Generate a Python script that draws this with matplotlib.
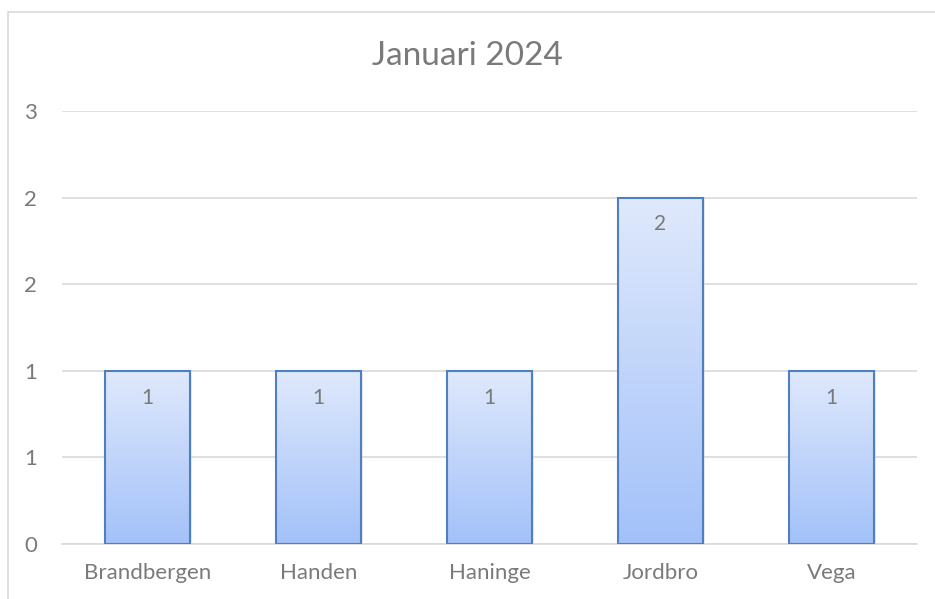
import numpy as np
import matplotlib
matplotlib.use("Agg")
import matplotlib.pyplot as plt
from matplotlib.patches import Rectangle
from matplotlib.colors import LinearSegmentedColormap

categories = ["Brandbergen", "Handen", "Haninge", "Jordbro", "Vega"]
values = [1, 1, 1, 2, 1]
yticks = [0, 0.5, 1, 1.5, 2, 2.5]
ytick_labels = ["0", "1", "1", "2", "2", "3"]
title = "Januari 2024"

plt.rcParams["font.family"] = ["Lato", "DejaVu Sans"]
grey = "#7a7a7a"

fig = plt.figure(figsize=(9.35, 5.99), dpi=100)
ax = fig.add_axes([62 / 935, 1 - 544 / 599, 855 / 935, 433 / 599])

# outer chart border (cropped on right/bottom)
fig.patches.append(Rectangle((8 / 935, -0.1), 1.2, 1 - 12 / 599 + 0.1,
                             transform=fig.transFigure, fill=False,
                             edgecolor="#d9d9d9", linewidth=1.2))

x = np.arange(len(categories))
width = 0.5
cmap = LinearSegmentedColormap.from_list("g", ["#a3c1f9", "#dfe9fc"])
grad = np.linspace(0, 1, 256).reshape(-1, 1)

bars = ax.bar(x, values, width=width, facecolor="none",
              edgecolor="#4f7fbf", linewidth=1.5, zorder=3)
for b, v in zip(bars, values):
    x0 = b.get_x()
    # soft shadow
    ax.add_patch(Rectangle((x0 + 0.012, -0.01), width, v, facecolor="#000000",
                           alpha=0.08, edgecolor="none", zorder=1.5))
    ax.imshow(grad, cmap=cmap, aspect="auto", origin="lower",
              extent=(x0, x0 + width, 0, v), zorder=2)
    ax.text(b.get_x() + width / 2, v - 0.155, str(v), ha="center", va="center",
            fontsize=15, color=grey, zorder=4)

ax.set_xlim(-0.5, len(categories) - 0.5)
ax.set_ylim(0, 2.5)
ax.set_yticks(yticks)
ax.set_yticklabels(ytick_labels)
ax.set_xticks(x)
ax.set_xticklabels(categories)
ax.grid(axis="y", color="#d9d9d9", linewidth=1.2, zorder=0)
for s in ["top", "right", "left"]:
    ax.spines[s].set_visible(False)
ax.spines["bottom"].set_color("#d9d9d9")
ax.spines["bottom"].set_linewidth(1.2)
ax.tick_params(axis="both", length=0, labelsize=16, labelcolor=grey)
ax.tick_params(axis="y", pad=18)
ax.tick_params(axis="x", pad=14)

fig.text(0.5, 1 - 56 / 599, title, ha="center", va="center", fontsize=24, color=grey)

fig.savefig("out.png", dpi=100)
